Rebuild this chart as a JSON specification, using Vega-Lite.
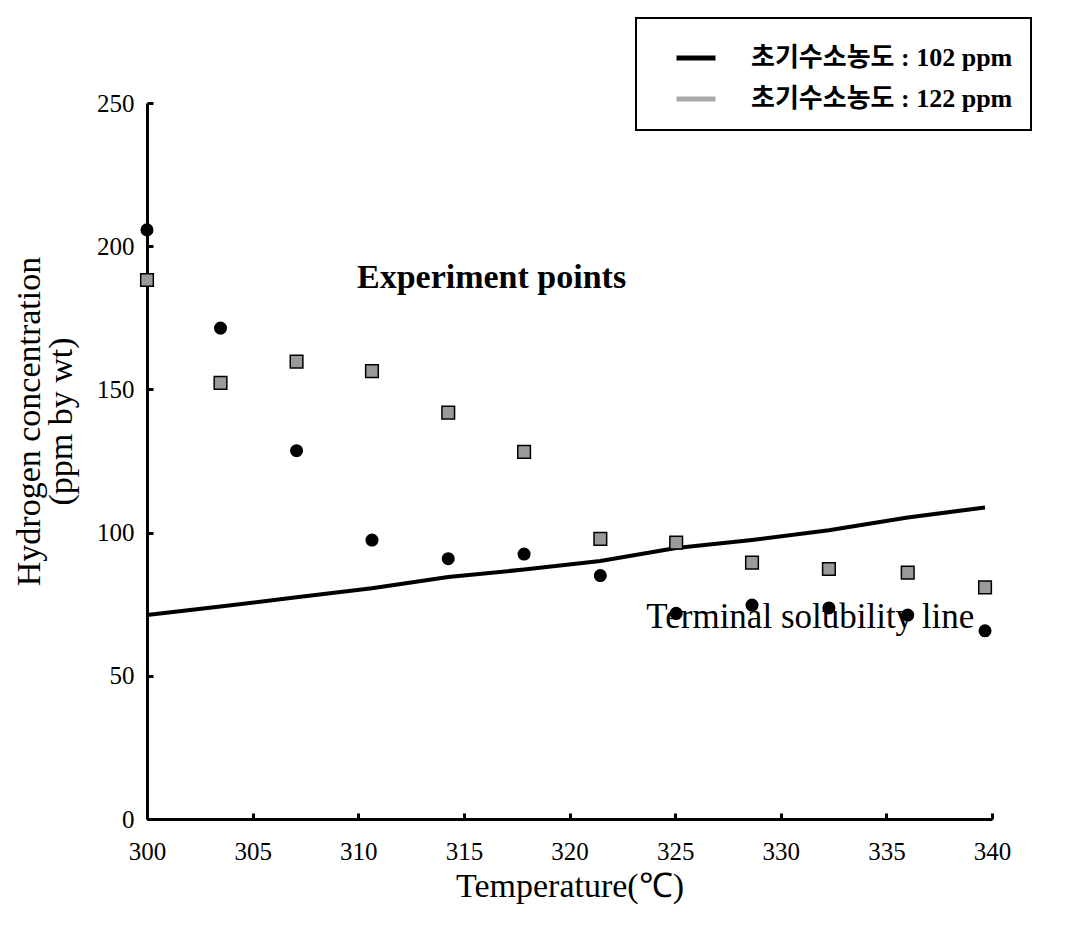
{
  "$schema": "https://vega.github.io/schema/vega-lite/v6.json",
  "width": 845,
  "height": 716,
  "autosize": {"type": "none"},
  "padding": {"left": 147, "top": 103, "right": 84, "bottom": 111},
  "background": "white",
  "config": {"view": {"stroke": null}, "font": "Liberation Serif"},
  "datasets": {
    "points": [
      {"T": 300.0, "H": 205.7, "series": "초기수소농도 : 102 ppm"},
      {"T": 303.48, "H": 171.4, "series": "초기수소농도 : 102 ppm"},
      {"T": 307.08, "H": 128.6, "series": "초기수소농도 : 102 ppm"},
      {"T": 310.65, "H": 97.4, "series": "초기수소농도 : 102 ppm"},
      {"T": 314.26, "H": 90.9, "series": "초기수소농도 : 102 ppm"},
      {"T": 317.85, "H": 92.5, "series": "초기수소농도 : 102 ppm"},
      {"T": 321.46, "H": 85.0, "series": "초기수소농도 : 102 ppm"},
      {"T": 325.05, "H": 71.8, "series": "초기수소농도 : 102 ppm"},
      {"T": 328.64, "H": 74.7, "series": "초기수소농도 : 102 ppm"},
      {"T": 332.28, "H": 73.7, "series": "초기수소농도 : 102 ppm"},
      {"T": 336.01, "H": 71.2, "series": "초기수소농도 : 102 ppm"},
      {"T": 339.67, "H": 65.7, "series": "초기수소농도 : 102 ppm"},
      {"T": 300.0, "H": 188.2, "series": "초기수소농도 : 122 ppm"},
      {"T": 303.48, "H": 152.3, "series": "초기수소농도 : 122 ppm"},
      {"T": 307.08, "H": 159.7, "series": "초기수소농도 : 122 ppm"},
      {"T": 310.65, "H": 156.4, "series": "초기수소농도 : 122 ppm"},
      {"T": 314.26, "H": 141.9, "series": "초기수소농도 : 122 ppm"},
      {"T": 317.85, "H": 128.2, "series": "초기수소농도 : 122 ppm"},
      {"T": 321.46, "H": 97.8, "series": "초기수소농도 : 122 ppm"},
      {"T": 325.05, "H": 96.5, "series": "초기수소농도 : 122 ppm"},
      {"T": 328.64, "H": 89.5, "series": "초기수소농도 : 122 ppm"},
      {"T": 332.28, "H": 87.3, "series": "초기수소농도 : 122 ppm"},
      {"T": 336.01, "H": 86.0, "series": "초기수소농도 : 122 ppm"},
      {"T": 339.67, "H": 80.9, "series": "초기수소농도 : 122 ppm"}
    ],
    "line": [
      {"T": 300.0, "H": 71.2},
      {"T": 303.48, "H": 74.2},
      {"T": 307.08, "H": 77.4},
      {"T": 310.65, "H": 80.6},
      {"T": 314.26, "H": 84.5},
      {"T": 317.85, "H": 87.1},
      {"T": 321.46, "H": 90.1},
      {"T": 325.05, "H": 94.6},
      {"T": 328.64, "H": 97.4},
      {"T": 332.28, "H": 100.8},
      {"T": 336.01, "H": 105.3},
      {"T": 339.67, "H": 108.8}
    ]
  },
  "layer": [
    {
      "data": {"name": "line"},
      "mark": {"type": "line", "color": "black", "strokeWidth": 4},
      "encoding": {
        "x": {
          "field": "T", "type": "quantitative",
          "scale": {"domain": [300, 340], "nice": false, "zero": false},
          "axis": {
            "title": "Temperature(℃)",
            "values": [300, 305, 310, 315, 320, 325, 330, 335, 340],
            "grid": false,
            "domainColor": "black", "domainWidth": 3,
            "tickColor": "black", "tickWidth": 3, "tickSize": -6,
            "labelPadding": 26,
            "labelFlush": false,
            "labelFont": "Liberation Serif", "labelFontSize": 25, "labelColor": "black",
            "titleFont": "Liberation Serif", "titleFontSize": 34, "titleFontWeight": "normal", "titleColor": "black",
            "titlePadding": 5
          }
        },
        "y": {
          "field": "H", "type": "quantitative",
          "scale": {"domain": [0, 250], "nice": false},
          "axis": {
            "title": ["Hydrogen concentration", "(ppm by wt)"],
            "values": [0, 50, 100, 150, 200, 250],
            "grid": false,
            "domainColor": "black", "domainWidth": 3,
            "tickColor": "black", "tickWidth": 3, "tickSize": -6,
            "labelPadding": 19,
            "labelFlush": false,
            "labelFont": "Liberation Serif", "labelFontSize": 25, "labelColor": "black",
            "titleFont": "Liberation Serif", "titleFontSize": 34, "titleFontWeight": "normal", "titleColor": "black",
            "titlePadding": 18, "titleLineHeight": 32, "titleY": 318
          }
        }
      }
    },
    {
      "data": {"name": "points"},
      "mark": {"type": "line", "opacity": 0, "strokeWidth": 5},
      "encoding": {
        "x": {"field": "T", "type": "quantitative"},
        "y": {"field": "H", "type": "quantitative"},
        "color": {
          "field": "series", "type": "nominal",
          "scale": {"domain": ["초기수소농도 : 102 ppm", "초기수소농도 : 122 ppm"], "range": ["black", "#a8a8a8"]},
          "legend": {
            "title": null,
            "orient": "none",
            "legendX": 489,
            "legendY": -85,
            "symbolType": "stroke",
            "symbolSize": 1521,
            "symbolStrokeWidth": 5,
            "symbolOffset": 20,
            "labelOffset": 33,
            "labelFont": "'Liberation Serif', 'Noto Sans CJK KR'",
            "labelFontSize": 26,
            "labelFontWeight": "bold",
            "labelColor": "black",
            "labelLimit": 600,
            "strokeColor": "black",
            "padding": 18,
            "rowPadding": 6,
            "encode": {
              "symbols": {"update": {"opacity": {"value": 1}, "strokeOpacity": {"value": 1}, "strokeWidth": {"value": 5}}},
              "legend": {"update": {"strokeWidth": {"value": 2}}}
            }
          }
        }
      }
    },
    {
      "data": {"values": [{}]},
      "mark": {"type": "text", "text": "Experiment points", "font": "Liberation Serif", "fontSize": 34, "fontWeight": "bold", "align": "center", "baseline": "alphabetic", "color": "black"},
      "encoding": {
        "x": {"datum": 316.31, "type": "quantitative"},
        "y": {"datum": 185.4, "type": "quantitative"}
      }
    },
    {
      "data": {"values": [{}]},
      "mark": {"type": "text", "text": "Terminal solubility line", "font": "Liberation Serif", "fontSize": 35, "fontWeight": "normal", "align": "center", "baseline": "alphabetic", "color": "black"},
      "encoding": {
        "x": {"datum": 331.4, "type": "quantitative"},
        "y": {"datum": 66.7, "type": "quantitative"}
      }
    },
    {
      "data": {"name": "points"},
      "transform": [{"filter": "datum.series === '초기수소농도 : 102 ppm'"}],
      "mark": {"type": "point", "shape": "circle", "filled": true, "size": 170, "color": "black", "opacity": 1},
      "encoding": {
        "x": {"field": "T", "type": "quantitative"},
        "y": {"field": "H", "type": "quantitative"}
      }
    },
    {
      "data": {"name": "points"},
      "transform": [{"filter": "datum.series === '초기수소농도 : 122 ppm'"}],
      "mark": {"type": "point", "shape": "square", "filled": true, "size": 160, "fill": "#9a9a9a", "stroke": "black", "strokeWidth": 1.5, "opacity": 1},
      "encoding": {
        "x": {"field": "T", "type": "quantitative"},
        "y": {"field": "H", "type": "quantitative"}
      }
    }
  ]
}
